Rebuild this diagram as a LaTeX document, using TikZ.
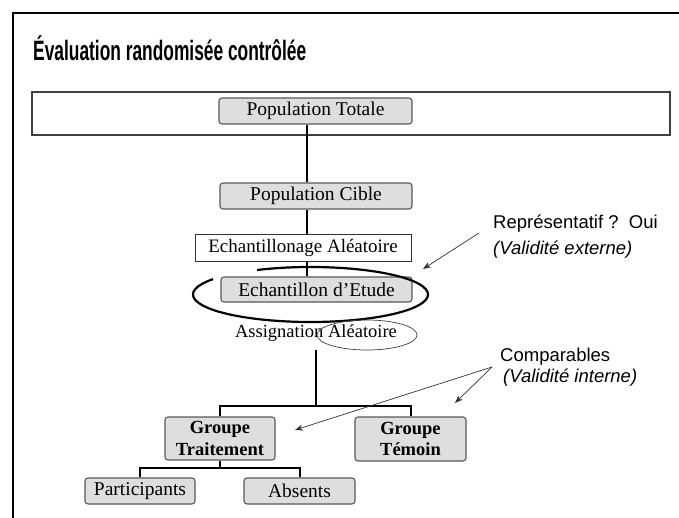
\documentclass[tikz,border=0pt]{standalone}
\usepackage{fontspec}
\setmainfont{Liberation Serif}
\setsansfont{Liberation Sans}
\newfontfamily\titrefont[FakeStretch=0.62]{Liberation Sans}
\usetikzlibrary{arrows.meta}

\tikzset{
  grisbox/.style={draw=black!65, fill=black!13, rounded corners=3pt, line width=1.1pt,
                  inner sep=0pt, font=\fontsize{19.5}{21}\selectfont},
  groupbox/.style={grisbox, align=center, font=\bfseries\fontsize{18.5}{21.5}\selectfont},
  cadrebox/.style={draw=black!80, line width=1pt, inner sep=0pt, font=\fontsize{19}{21}\selectfont},
  lien/.style={line width=2pt},
  fleche/.style={line width=0.7pt, black!80, -{Stealth[length=8pt,width=6pt]}},
  remarque/.style={anchor=west, inner sep=0pt, font=\sffamily\fontsize{18.5}{20}\selectfont},
  remarqueit/.style={remarque, font=\sffamily\itshape\fontsize{18.5}{20}\selectfont}
}

\begin{document}
\begin{tikzpicture}[x=1pt,y=-1pt]
  \fill[white] (0,0) rectangle (679,518);
  \useasboundingbox (0,0) rectangle (679,518);

  % cadre de la diapositive et titre
  \draw[line width=2.2pt] (13,518) -- (13,13) -- (679,13);
  \node[anchor=base west, inner sep=0pt, font=\titrefont\bfseries\fontsize{28}{32}\selectfont]
       (titre) at (33,61) {Évaluation randomisée contrôlée};

  \draw[draw=black!75, line width=1.2pt] (32,92) rectangle (670,135);

  % boites
  \node[grisbox, minimum width=193pt, minimum height=26pt] (ptot) at (315.5,111) {Population Totale};
  \node[grisbox, minimum width=192pt, minimum height=26pt] (pcib) at (316,196) {Population Cible};
  \node[cadrebox, minimum width=216pt, minimum height=27pt] (echal) at (303,248) {Echantillonage Aléatoire};
  \node[grisbox, minimum width=191pt, minimum height=25pt] (etude) at (316.5,289.5) {Echantillon d’Etude};
  \node[inner sep=0pt, font=\fontsize{18.5}{21}\selectfont] (assign) at (316,333) {Assignation Aléatoire};

  \node[groupbox, minimum width=110pt, minimum height=43pt] (trait) at (220,438.5) {Groupe\\Traitement};
  \node[groupbox, minimum width=111pt, minimum height=44pt] (temoin) at (410.5,439) {Groupe\\Témoin};
  \node[grisbox, minimum width=110pt, minimum height=26pt] (partic) at (140,491) {Participants};
  \node[grisbox, minimum width=111pt, minimum height=26pt] (absents) at (299.5,491) {Absents};

  % liens
  \coordinate (axe) at (307,0);
  \draw[lien] (ptot.south -| axe) -- (pcib.north -| axe);
  \draw[lien] (pcib.south -| axe) -- (echal.north -| axe);
  \draw[lien] (echal.south -| axe) -- (etude.north -| axe);

  \coordinate (depart) at (316,350);
  \coordinate (noeud) at (316,406);
  \draw[lien] (depart) -- (noeud);
  \draw[lien] (trait.north) |- (noeud) -| (temoin.north);
  \coordinate (sousnoeud) at (220,468);
  \draw[lien] (trait.south) -- (sousnoeud);
  \draw[lien] (partic.north) |- (sousnoeud) -| (absents.north);

  % ellipses
  \draw[line width=2.2pt] (310.5,294.5) ++(214:117.5 and 27.5)
        arc[start angle=214, end angle=-117, x radius=117.5, y radius=27.5];
  \draw[line width=0.7pt, black!75] (367,335) ellipse [x radius=50, y radius=15];

  % remarques
  \node[remarque] (repr) at (493,224) {Représentatif ?\ \ Oui};
  \node[remarqueit] (vext) at (493,250) {(Validité externe)};
  \node[remarque] (comp) at (500,357) {Comparables};
  \node[remarqueit] (vint) at (503,378) {(Validité interne)};

  \coordinate (q1) at (479,233);
  \coordinate (p1) at (423,269);
  \draw[fleche] (q1) -- (p1);
  \coordinate (q2) at (492,367);
  \coordinate (p2) at (455,403);
  \coordinate (p3) at (295,430);
  \draw[fleche] (q2) -- (p2);
  \draw[fleche] (q2) -- (p3);
\end{tikzpicture}
\end{document}
